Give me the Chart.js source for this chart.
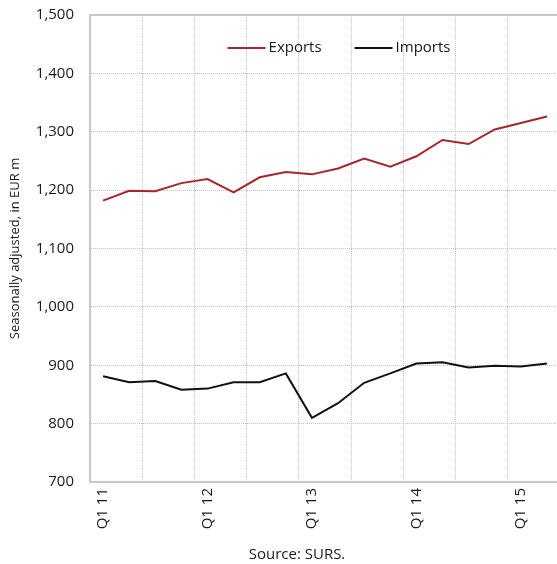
<!DOCTYPE html>
<html>
<head>
<meta charset="utf-8">
<script src="https://cdn.jsdelivr.net/npm/chart.js@4/dist/chart.umd.min.js"></script>
<style>
  html, body { margin: 0; padding: 0; background: #fff; overflow: hidden; }
  #wrap { position: relative; width: 594px; height: 564px; }
</style>
</head>
<body>
<div id="wrap"><canvas id="c"></canvas></div>
<script>
// Quarterly trade in goods, seasonally adjusted, EUR m
const quarters = [
  'Q1 11', 'Q2 11', 'Q3 11', 'Q4 11',
  'Q1 12', 'Q2 12', 'Q3 12', 'Q4 12',
  'Q1 13', 'Q2 13', 'Q3 13', 'Q4 13',
  'Q1 14', 'Q2 14', 'Q3 14', 'Q4 14',
  'Q1 15', 'Q2 15'
];
const exportsValues = [1182, 1199, 1198, 1212, 1219, 1196, 1222, 1231, 1227, 1237, 1254, 1240, 1258, 1286, 1279, 1304, 1315, 1326];
const importsValues = [881, 871, 873, 858, 860, 871, 871, 886, 810, 835, 870, 886, 903, 905, 896, 899, 898, 903];
const yTicks = [700, 800, 900, 1000, 1100, 1200, 1300, 1400, 1500];

const FONT = '"Open Sans", "Noto Sans", sans-serif';
const TEXT = '#1a1a1a';
const GRID = '#c2c2c2';
const AXIS = '#c8c8c8';

// Legend drawn inside the plot area, plus the top frame line
const insideLegend = {
  id: 'insideLegend',
  afterDraw(chart, args, opts) {
    const { ctx, chartArea } = chart;
    ctx.save();
    // top frame
    ctx.strokeStyle = AXIS;
    ctx.lineWidth = 2;
    ctx.beginPath();
    ctx.moveTo(chartArea.left, chartArea.top);
    ctx.lineTo(chartArea.right, chartArea.top);
    ctx.stroke();

    ctx.font = '15px ' + FONT;
    ctx.textBaseline = 'middle';
    ctx.textAlign = 'left';
    const sw = 38, gapText = 3, gapItem = 33;
    const items = chart.data.datasets.map(ds => ({
      label: ds.label, color: ds.borderColor, w: ctx.measureText(ds.label).width
    }));
    const total = items.reduce((s, it) => s + sw + gapText + it.w, 0) + gapItem * (items.length - 1);
    let x = (chartArea.left + chartArea.right) / 2 + opts.shift - total / 2;
    const y = chartArea.top + opts.offsetY;
    items.forEach(it => {
      ctx.strokeStyle = it.color;
      ctx.lineWidth = 2;
      ctx.beginPath();
      ctx.moveTo(x, y);
      ctx.lineTo(x + sw, y);
      ctx.stroke();
      ctx.fillStyle = TEXT;
      ctx.fillText(it.label, x + sw + gapText, y);
      x += sw + gapText + it.w + gapItem;
    });
    ctx.restore();
  }
};

new Chart(document.getElementById('c'), {
  type: 'line',
  data: {
    labels: quarters,
    datasets: [
      { label: 'Exports', data: exportsValues, borderColor: '#a6262b', borderWidth: 2, pointRadius: 0, tension: 0, fill: false },
      { label: 'Imports', data: importsValues, borderColor: '#111111', borderWidth: 2, pointRadius: 0, tension: 0, fill: false }
    ]
  },
  options: {
    responsive: true,
    maintainAspectRatio: false,
    animation: false,
    layout: { padding: { top: 15, right: 0, bottom: 0, left: 0 } },
    plugins: {
      legend: { display: false },
      tooltip: { enabled: false },
      title: {
        display: true,
        position: 'bottom',
        text: 'Source: SURS.',
        color: TEXT,
        font: { family: FONT, size: 15, weight: 'normal' },
        padding: { top: 0, bottom: 0 }
      },
      insideLegend: { shift: 14, offsetY: 33 }
    },
    scales: {
      x: {
        type: 'category',
        offset: true,
        grid: {
          offset: true,
          drawTicks: false,
          lineWidth: 1,
          color: ctx => (ctx.index % 2 === 0 ? GRID : 'rgba(0,0,0,0)')
        },
        border: { display: true, color: AXIS, width: 2, dash: [1, 1] },
        ticks: {
          autoSkip: false,
          minRotation: 90,
          maxRotation: 90,
          padding: 6,
          color: TEXT,
          font: { family: FONT, size: 15 },
          callback: function (value, index) {
            const lab = this.getLabelForValue(value);
            return lab.startsWith('Q1') ? lab : '';
          }
        },
        afterFit: scale => { scale.height = 64; }
      },
      y: {
        min: yTicks[0],
        max: yTicks[yTicks.length - 1],
        afterBuildTicks: scale => { scale.ticks = yTicks.map(v => ({ value: v })); },
        grid: { drawTicks: false, color: GRID, lineWidth: 1 },
        border: { display: true, color: AXIS, width: 2, dash: [1, 1] },
        ticks: {
          padding: 16,
          color: TEXT,
          font: { family: FONT, size: 15 },
          callback: v => v.toLocaleString('en-US')
        },
        title: {
          display: true,
          text: 'Seasonally adjusted, in EUR m',
          color: TEXT,
          font: { family: FONT, size: 13 },
          padding: { top: 7, bottom: 0 }
        },
        afterFit: scale => {
          scale.width = 90;
          scale.paddingTop = 0;
          scale.paddingBottom = 0;
        }
      },
      // empty right-hand margin so the plot runs to the edge of the page
      yRight: {
        position: 'right',
        min: yTicks[0],
        max: yTicks[yTicks.length - 1],
        grid: { drawOnChartArea: false, drawTicks: false },
        border: { display: false },
        ticks: { display: false },
        afterFit: scale => {
          scale.width = 34;
          scale.paddingTop = 0;
          scale.paddingBottom = 0;
        }
      }
    }
  },
  plugins: [insideLegend]
});
</script>
</body>
</html>
